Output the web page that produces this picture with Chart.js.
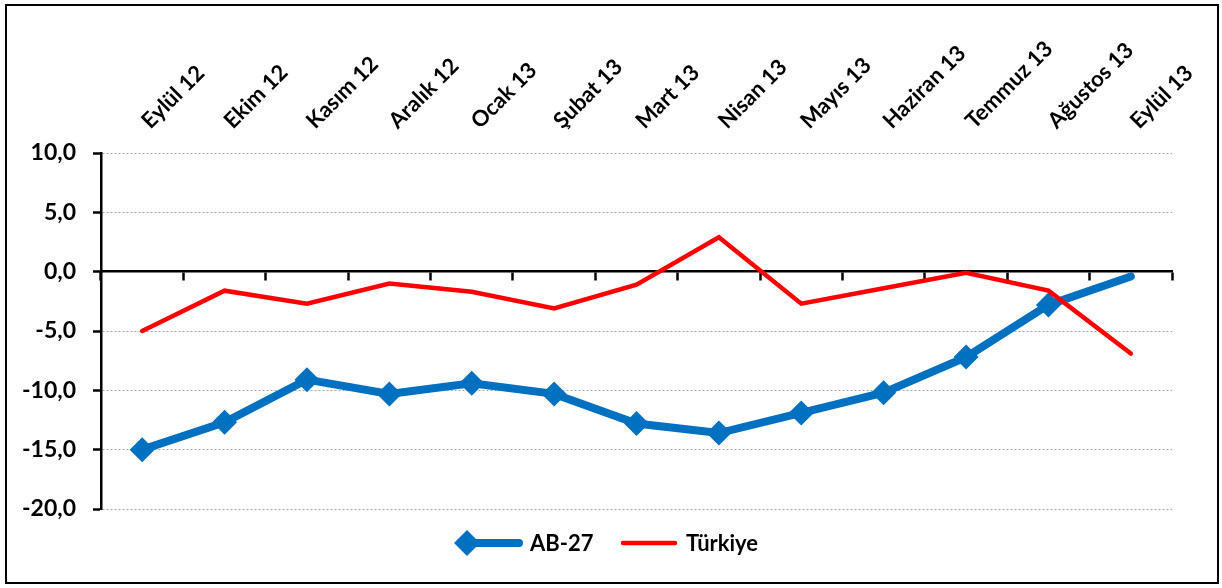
<!DOCTYPE html>
<html lang="tr">
<head>
<meta charset="utf-8">
<title>AB-27 ve Türkiye</title>
<script src="https://cdn.jsdelivr.net/npm/chart.js@4.4.1/dist/chart.umd.min.js"></script>
<style>
  html, body { margin:0; padding:0; background:#fff; }
  #wrap { position:relative; width:1222px; height:588px; }
  #frame { position:absolute; left:5px; top:4px; width:1210px; height:576px; border:2px solid #000; pointer-events:none; }
  canvas { position:absolute; left:0; top:0; }
</style>
</head>
<body>
<div id="wrap">
  <canvas id="lineChart" width="1222" height="588"></canvas>
  <div id="frame"></div>
</div>
<script>
/* Veriler */
const months = ['Eylül 12','Ekim 12','Kasım 12','Aralık 12','Ocak 13','Şubat 13','Mart 13','Nisan 13','Mayıs 13','Haziran 13','Temmuz 13','Ağustos 13','Eylül 13'];
const ab27    = [-15.0,-12.7,-9.1,-10.3,-9.4,-10.3,-12.8,-13.6,-11.9,-10.2,-7.2,-2.8,-0.4];
const turkiye = [-5.0,-1.6,-2.7,-1.0,-1.7,-3.1,-1.1,2.9,-2.7,-1.4,-0.1,-1.6,-6.9];
const yMin = -20, yMax = 10, yStep = 5;

const BLUE = '#0070C0', RED = '#FF0000';
const FONT = 'Lato, "Open Sans", sans-serif';
const fmt = (v)=> v.toFixed(1).replace('.', ',');

// Lejant: çizgi + işaret (Excel tarzı)
const legendPlugin = {
  id:'excelLegend',
  afterDraw(chart){
    const ctx = chart.ctx;
    const y = 543;
    const items = [
      { ds:chart.data.datasets[0], x0:470, x1:519, tx:530, marker:true },
      { ds:chart.data.datasets[1], x0:623, x1:675, tx:686, marker:false }
    ];
    ctx.save();
    items.forEach(it=>{
      ctx.strokeStyle = it.ds.borderColor;
      ctx.lineWidth = it.ds.borderWidth;
      ctx.lineCap = 'round';
      ctx.beginPath(); ctx.moveTo(it.x0, y); ctx.lineTo(it.x1, y); ctx.stroke();
      if(it.marker){
        const r = 13;
        ctx.fillStyle = it.ds.borderColor;
        ctx.beginPath();
        ctx.moveTo(467, y-r); ctx.lineTo(467+r, y); ctx.lineTo(467, y+r); ctx.lineTo(467-r, y);
        ctx.closePath(); ctx.fill();
      }
      ctx.fillStyle = '#000';
      ctx.font = 'bold 22px ' + FONT;
      ctx.textBaseline = 'middle';
      ctx.textAlign = 'left';
      ctx.fillText(it.ds.label, it.tx, y+1);
    });
    ctx.restore();
  }
};

new Chart(document.getElementById('lineChart'), {
  type:'line',
  data:{
    labels: months,
    datasets:[
      { label:'AB-27', data:ab27, borderColor:BLUE, backgroundColor:BLUE, borderWidth:8,
        borderCapStyle:'round', pointStyle:'rectRot', pointBorderWidth:0, tension:0, order:1,
        // son noktada işaret yok
        pointRadius:(c)=> c.dataIndex === months.length-1 ? 0 : 12.5 },
      { label:'Türkiye', data:turkiye, borderColor:RED, backgroundColor:RED, borderWidth:4.5,
        pointRadius:0, tension:0, order:0, borderCapStyle:'round' }
    ]
  },
  options:{
    responsive:false,
    animation:false,
    devicePixelRatio:1,
    layout:{ padding:{ left:0, right:50, top:0, bottom:79 } },
    plugins:{ legend:{ display:false }, tooltip:{ enabled:false } },
    scales:{
      x:{
        position:'top', offset:true,
        grid:{ display:false }, border:{ display:false },
        ticks:{ color:'#000', font:{ family:FONT, weight:'bold', size:22 },
                minRotation:45, maxRotation:45, padding:11, labelOffset:22 },
        afterFit:(s)=>{ s.height = 153; }
      },
      xAxis0:{
        type:'category', axis:'x', position:{ y:0 }, offset:true,
        ticks:{ display:false },
        grid:{ offset:true, drawOnChartArea:false, drawTicks:true, tickLength:8, tickColor:'#000', tickWidth:2.5 },
        border:{ display:true, color:'#000', width:2.5 }
      },
      y:{
        min:yMin, max:yMax,
        ticks:{ stepSize:yStep, color:'#000', padding:17, font:{ family:FONT, weight:'bold', size:23 },
                callback:(v)=> fmt(v) },
        grid:{ color:'#a6a6a6', lineWidth:1, drawTicks:true, tickLength:8, tickColor:'#000', tickWidth:2.5 },
        border:{ display:true, color:'#000', width:2.5, dash:[2,2] },
        afterFit:(s)=>{ s.width = 101; }
      }
    }
  },
  plugins:[legendPlugin]
});
</script>
</body>
</html>
